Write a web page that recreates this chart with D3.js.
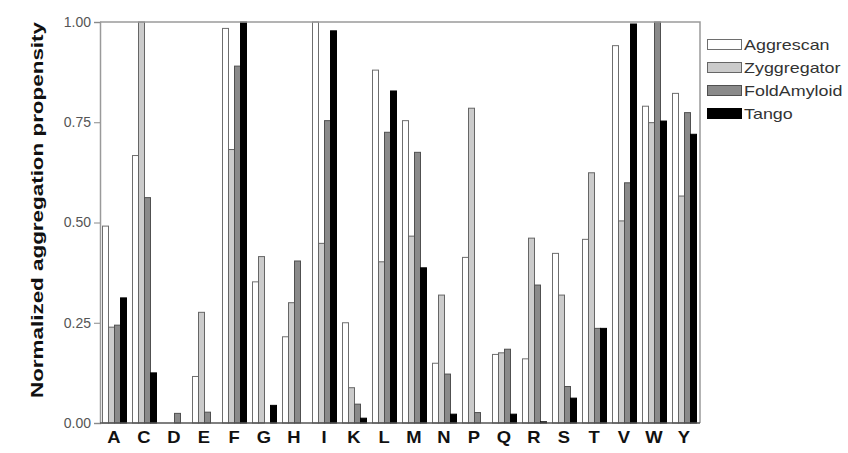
<!DOCTYPE html>
<html>
<head>
<meta charset="utf-8">
<script src="https://cdn.jsdelivr.net/npm/d3@7"></script>
<style>
  html, body { margin: 0; padding: 0; background: #fff; }
  svg { display: block; font-family: "Liberation Sans", Arial, sans-serif; }
</style>
</head>
<body>
<svg id="chart" width="848" height="453"></svg>
<script>
// Amino acids along the x axis
const residues = ["A","C","D","E","F","G","H","I","K","L","M","N","P","Q","R","S","T","V","W","Y"];

// Normalized aggregation propensity per predictor
const aggrescan    = [0.491,0.667,0,0.116,0.984,0.352,0.215,1.0,0.250,0.880,0.754,0.149,0.413,0.171,0.160,0.423,0.458,0.941,0.790,0.822];
const zyggregator  = [0.239,1.0,0,0.276,0.682,0.415,0.300,0.448,0.088,0.402,0.466,0.319,0.785,0.175,0.461,0.319,0.624,0.504,0.749,0.566];
const foldAmyloid  = [0.244,0.562,0.024,0.027,0.890,0,0.404,0.754,0.047,0.725,0.675,0.122,0.026,0.184,0.344,0.091,0.236,0.599,1.0,0.774];
const tango        = [0.312,0.125,0,0,1.0,0.044,0,0.978,0.012,0.828,0.387,0.022,0,0.022,0.003,0.062,0.236,0.995,0.753,0.720];

const seriesNames = ["Aggrescan","Zyggregator","FoldAmyloid","Tango"];
const seriesValues = [aggrescan, zyggregator, foldAmyloid, tango];
const yTicks = [0, 0.25, 0.5, 0.75, 1.0];

const fills   = ["#ffffff", "#cbcbcb", "#8a8a8a", "#000000"];
const strokes = ["#6e6e6e", "#666666", "#505050", "#000000"];

const svg = d3.select("#chart");
const plot = { left: 100, right: 700, top: 22, bottom: 423 };

const x0 = d3.scaleBand().domain(residues).range([plot.left - 1, plot.right - 1])
  .paddingInner(0.2).paddingOuter(0.1);
const x1 = d3.scaleBand().domain(seriesNames).range([0, x0.bandwidth()]);
const y = d3.scaleLinear().domain([0, 1]).range([plot.bottom, plot.top]);

// Bars, one group per residue
const groups = svg.append("g").selectAll("g")
  .data(residues)
  .join("g")
  .attr("transform", d => `translate(${x0(d)},0)`);

groups.selectAll("rect")
  .data((d, i) => seriesNames.map((s, k) => ({ s, k, v: seriesValues[k][i] })))
  .join("rect")
  .filter(d => d.v > 0)
  .attr("x", d => x1(d.s) + 0.5)
  .attr("y", d => y(d.v))
  .attr("width", x1.bandwidth())
  .attr("height", d => y(0) - y(d.v))
  .attr("fill", d => fills[d.k])
  .attr("stroke", d => strokes[d.k])
  .attr("stroke-width", 1);

// Frame on the top and right
svg.append("path")
  .attr("d", `M${plot.left},${plot.top}H${plot.right}V${plot.bottom}`)
  .attr("fill", "none")
  .attr("stroke", "#9a9a9a")
  .attr("stroke-width", 1.5);

// Y axis
const yAxis = svg.append("g")
  .attr("transform", `translate(${plot.left},0)`)
  .call(d3.axisLeft(y).tickValues(yTicks).tickFormat(d3.format(".2f")).tickSize(6).tickPadding(3));
yAxis.select(".domain").attr("stroke", "#9a9a9a").attr("stroke-width", 1.5);
yAxis.selectAll(".tick line").attr("stroke", "#8a8a8a");
yAxis.selectAll(".tick text")
  .attr("font-size", 14)
  .attr("fill", "#555")
  .attr("font-family", "Liberation Sans, Arial, sans-serif");

// X axis
const xAxis = svg.append("g")
  .attr("transform", `translate(0,${plot.bottom})`)
  .call(d3.axisBottom(x0).tickSize(0).tickPadding(9));
xAxis.select(".domain").attr("d", `M${plot.left},0H${plot.right}`).attr("stroke", "#555").attr("stroke-width", 1.5);
xAxis.selectAll(".tick text")
  .attr("font-size", 16)
  .attr("font-weight", "bold")
  .attr("fill", "#111")
  .attr("font-family", "Liberation Sans, Arial, sans-serif")
  .attr("transform", "scale(1.15,1)");

// Y axis title
svg.append("text")
  .attr("transform", `translate(43,210) rotate(-90)`)
  .attr("text-anchor", "middle")
  .attr("font-size", 17)
  .attr("font-weight", "bold")
  .attr("fill", "#111")
  .attr("textLength", 376)
  .attr("lengthAdjust", "spacingAndGlyphs")
  .text("Normalized aggregation propensity");

// Legend
const legend = svg.append("g").attr("transform", "translate(707,39)");
const rows = legend.selectAll("g").data(seriesNames).join("g")
  .attr("transform", (d, i) => `translate(0,${i * 23})`);
rows.append("rect")
  .attr("x", 0.5).attr("y", 0.5)
  .attr("width", 34).attr("height", 10)
  .attr("fill", (d, i) => fills[i])
  .attr("stroke", (d, i) => strokes[i]);
rows.append("text")
  .attr("transform", "translate(37,11) scale(1.28,1)")
  .attr("font-size", 14)
  .attr("fill", "#333")
  .text(d => d);
</script>
</body>
</html>
